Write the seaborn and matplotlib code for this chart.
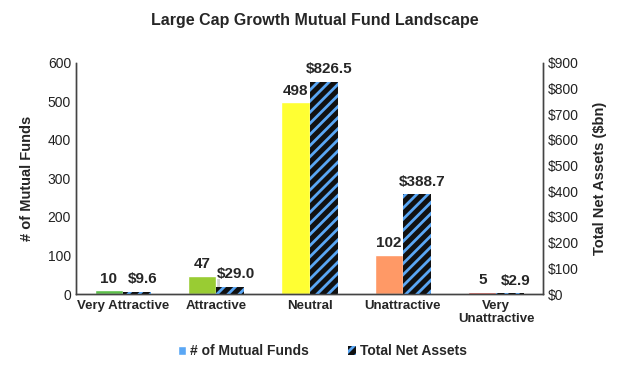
import pandas as pd
import numpy as np
import matplotlib
matplotlib.use("Agg")
import matplotlib.pyplot as plt
import matplotlib.patheffects as pe
from matplotlib.patches import Patch
import seaborn as sns

# Datos
categorias = ["Very Attractive", "Attractive", "Neutral", "Unattractive", "Very\nUnattractive"]
num_fondos = [10, 47, 498, 102, 5]
activos = [9.6, 29.0, 826.5, 388.7, 2.9]
etiquetas_fondos = ["10", "47", "498", "102", "5"]
etiquetas_activos = ["$9.6", "$29.0", "$826.5", "$388.7", "$2.9"]
colores = ["#5cc04a", "#99cc33", "#ffff33", "#ff9966", "#e03c31"]

df = pd.DataFrame({"categoria": categorias, "fondos": num_fondos, "activos": activos})

sns.set_style("white")
plt.rcParams["font.family"] = ["Liberation Sans", "DejaVu Sans"]
plt.rcParams["hatch.linewidth"] = 2.0

fig = plt.figure(figsize=(6.3, 3.68), dpi=100)
ax1 = fig.add_axes([0.1206, 0.201, 0.7414, 0.628])
ax2 = ax1.twinx()

ancho = 0.3
sombra = [pe.SimplePatchShadow(offset=(3, -2), shadow_rgbFace="#999999", alpha=0.45), pe.Normal()]

sns.barplot(data=df, x="categoria", y="fondos", hue="categoria", palette=colores,
            legend=False, ax=ax1, width=ancho, saturation=1)
for p in ax1.patches:
    p.set_x(p.get_x() - ancho / 2)
    p.set_path_effects(sombra)

sns.barplot(data=df, x="categoria", y="activos", color="#111111", ax=ax2,
            width=ancho, saturation=1)
for p in ax2.patches:
    p.set_x(p.get_x() + ancho / 2)
    p.set_hatch("///")
    p.set_edgecolor("#5aa7f5")
    p.set_linewidth(0)

ax1.set_ylim(0, 600)
ax2.set_ylim(0, 900)
ax1.set_xlim(-0.5, 4.5)
ax1.set_yticks(np.arange(0, 601, 100))
ax2.set_yticks(np.arange(0, 901, 100))
ax2.set_yticklabels([f"${v}" for v in range(0, 901, 100)])

# Etiquetas de valores
for i, (f, a) in enumerate(zip(num_fondos, activos)):
    ax1.text(i - ancho / 2, f + 12, etiquetas_fondos[i], ha="center", va="bottom",
             fontsize=11, fontweight="bold")
    ax1.text(i + ancho / 2 + 0.06, a * 600 / 900 + 14, etiquetas_activos[i], ha="center",
             va="bottom", fontsize=11, fontweight="bold")

ax1.set_xlabel("")
ax2.set_xlabel("")
ax1.set_ylabel("# of Mutual Funds", fontsize=10.5, fontweight="bold", labelpad=10)
ax2.set_ylabel("Total Net Assets ($bn)", fontsize=10.5, fontweight="bold", labelpad=10)
ax1.set_xticks(range(5))
ax1.set_xticklabels(categorias, fontsize=9.5, fontweight="bold")
ax1.tick_params(axis="x", length=0, pad=4)
ax1.set_xticks(np.arange(-0.5, 4.6, 1), minor=True)
ax1.tick_params(axis="x", which="minor", length=5, direction="out", color="#444444")
ax1.tick_params(axis="y", length=0, labelsize=10, colors="#222222")
ax2.tick_params(axis="y", length=0, labelsize=10, colors="#222222")

for ax in (ax1, ax2):
    ax.spines["top"].set_visible(False)
    for s in ("left", "right", "bottom"):
        ax.spines[s].set_color("#444444")
        ax.spines[s].set_linewidth(1)

fig.suptitle("Large Cap Growth Mutual Fund Landscape", x=0.5, y=0.965,
             fontsize=11.5, fontweight="bold")

leyenda = [Patch(facecolor="#5aa7f5", label="# of Mutual Funds"),
           Patch(facecolor="#111111", edgecolor="#5aa7f5", hatch="///", linewidth=0,
                 label="Total Net Assets")]
fig.legend(handles=leyenda, loc="center", bbox_to_anchor=(0.512, 0.045), ncol=2,
           frameon=False, prop={"weight": "bold", "size": 10},
           handlelength=0.6, handleheight=0.6, handletextpad=0.3, columnspacing=2.8)

plt.savefig("out.png", dpi=100)
plt.close()
